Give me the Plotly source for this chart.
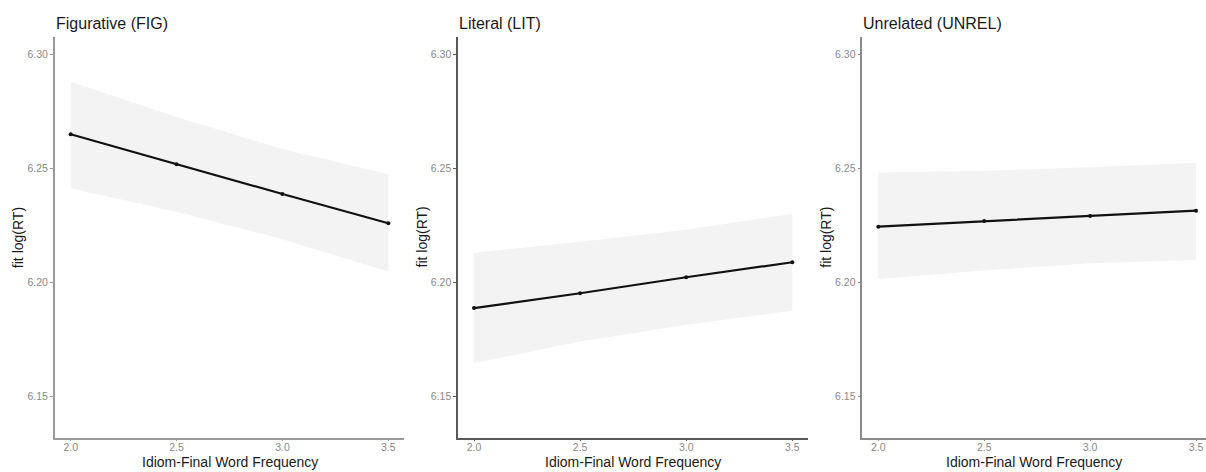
import plotly.graph_objects as go

# ---- data ----
freq = [2.0, 2.5, 3.0, 3.5]

fig_fit = [6.2650, 6.2518, 6.2388, 6.2260]
fig_upper = [6.2880, 6.2725, 6.2585, 6.2475]
fig_lower = [6.2413, 6.2310, 6.2190, 6.2048]

lit_fit = [6.1888, 6.1953, 6.2023, 6.2089]
lit_upper = [6.2131, 6.2179, 6.2231, 6.2301]
lit_lower = [6.1647, 6.1742, 6.1815, 6.1876]

unrel_fit = [6.2245, 6.2270, 6.2292, 6.2315]
unrel_upper = [6.2482, 6.2490, 6.2505, 6.2525]
unrel_lower = [6.2015, 6.2053, 6.2085, 6.2099]

titles = ["Figurative (FIG)", "Literal (LIT)", "Unrelated (UNREL)"]
x_ticks = [2.0, 2.5, 3.0, 3.5]
y_ticks = [6.15, 6.20, 6.25, 6.30]
x_title = "Idiom-Final Word Frequency"
y_title = "fit log(RT)"

panels = [
    (fig_fit, fig_upper, fig_lower),
    (lit_fit, lit_upper, lit_lower),
    (unrel_fit, unrel_upper, unrel_lower),
]

# ---- layout geometry (pixels) ----
W, H = 1206, 472
x_left_px = [54.8, 458.1, 862.4]
x_right_px = [404.2, 808.2, 1206.0]
x_ranges = [[1.925, 3.575], [1.925, 3.575], [1.925, 3.547]]
y_top_px, y_bot_px = 37.0, 437.7
y_range = [6.132, 6.3076]
axis_colors = ["#9a9a9a", "#5a5a5a", "#8a8a8a"]

fig = go.Figure()

for i, (fit, up, lo) in enumerate(panels):
    xa = "x" if i == 0 else f"x{i+1}"
    ya = "y" if i == 0 else f"y{i+1}"
    # ribbon
    fig.add_trace(go.Scatter(
        x=freq + freq[::-1], y=up + lo[::-1],
        fill="toself", fillcolor="#f3f3f3", line=dict(width=0),
        mode="lines", hoverinfo="skip", showlegend=False,
        xaxis=xa, yaxis=ya))
    # fitted line
    fig.add_trace(go.Scatter(
        x=freq, y=fit, mode="lines+markers",
        line=dict(color="#111111", width=2.2),
        marker=dict(color="#111111", size=4),
        showlegend=False, xaxis=xa, yaxis=ya))

layout = dict(
    width=W, height=H,
    margin=dict(l=0, r=0, t=0, b=0),
    paper_bgcolor="white", plot_bgcolor="white",
    font=dict(family="Liberation Sans, Arial, sans-serif"),
    annotations=[],
)

ydom = [1 - y_bot_px / H, 1 - y_top_px / H]
for i in range(3):
    xk = "xaxis" if i == 0 else f"xaxis{i+1}"
    yk = "yaxis" if i == 0 else f"yaxis{i+1}"
    xa = "x" if i == 0 else f"x{i+1}"
    ya = "y" if i == 0 else f"y{i+1}"
    col = axis_colors[i]
    layout[xk] = dict(
        domain=[x_left_px[i] / W, x_right_px[i] / W], range=x_ranges[i],
        anchor=ya, showgrid=False, zeroline=False,
        showline=True, linecolor=col, linewidth=1.5,
        ticks="outside", ticklen=2, tickwidth=1, tickcolor=col,
        ticklabelstandoff=-3,
        tickvals=x_ticks, tickformat=".1f",
        tickfont=dict(size=10.5, color="#8a8a8a"), fixedrange=True)
    layout[yk] = dict(
        domain=ydom, range=y_range,
        anchor=xa, showgrid=False, zeroline=False,
        showline=True, linecolor=col, linewidth=1.5,
        ticks="outside", ticklen=3, tickwidth=1, tickcolor=col,
        tickvals=y_ticks, tickformat=".2f",
        tickfont=dict(size=10.5, color="#8a8a8a"), fixedrange=True)
    # panel title
    layout["annotations"].append(dict(
        text=titles[i], xref="paper", yref="paper",
        x=x_left_px[i] / W - 1 / W, y=1 - 34 / H,
        xanchor="left", yanchor="bottom", showarrow=False,
        font=dict(size=16, color="#1a1a1a")))
    # x axis title
    layout["annotations"].append(dict(
        text=x_title, xref="paper", yref="paper",
        x=(x_left_px[i] + min(x_right_px[i], x_left_px[i] + 349.4)) / 2 / W,
        y=0, xanchor="center", yanchor="bottom", showarrow=False,
        font=dict(size=14, color="#1a1a1a")))
    # y axis title
    layout["annotations"].append(dict(
        text=y_title, xref="paper", yref="paper",
        x=(x_left_px[i] - 36) / W, y=1 - (y_top_px + y_bot_px) / 2 / H,
        xanchor="center", yanchor="middle", textangle=-90, showarrow=False,
        font=dict(size=14, color="#1a1a1a")))

fig.update_layout(**layout)
fig.write_html(
    "out.html",
    config={"displayModeBar": False},
    post_script="document.body.style.margin='0';document.body.style.overflow='hidden';",
)
